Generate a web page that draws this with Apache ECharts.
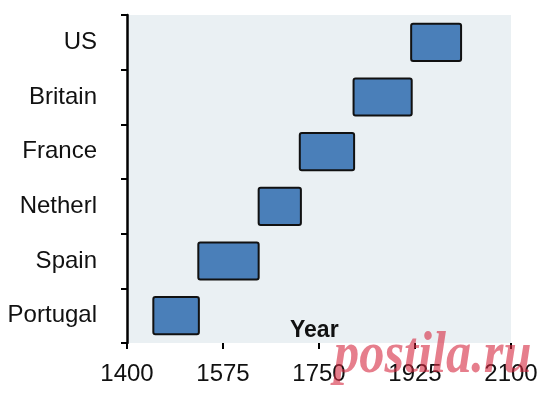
<!DOCTYPE html>
<html>
<head>
<meta charset="utf-8">
<script src="https://cdn.jsdelivr.net/npm/echarts@6/dist/echarts.min.js"></script>
<style>
  html, body { margin: 0; padding: 0; background: #fff; }
  #main { width: 549px; height: 393px; }
</style>
</head>
<body>
<div id="main"></div>
<script>
// countries, bottom to top
var countries = ['Portugal', 'Spain', 'Netherl', 'France', 'Britain', 'US'];
// period of leadership for each country (years)
var startYears = [1448, 1530, 1640, 1715, 1813, 1918];
var endYears   = [1531, 1640, 1717, 1814, 1919, 2009];
// x axis ticks
var yearMin = 1400;
var yearMax = 2100;
var yearStep = 175;

var periods = [];
for (var i = 0; i < countries.length; i++) {
  periods.push([i, startYears[i], endYears[i]]);
}

var myChart = echarts.init(document.getElementById('main'));

function renderBar(params, api) {
  var cat = api.value(0);
  var p1 = api.coord([api.value(1), cat]);
  var p2 = api.coord([api.value(2), cat]);
  var h = api.size([0, 1])[1] * 0.68;
  return {
    type: 'rect',
    shape: { x: p1[0], y: p1[1] - h / 2, width: p2[0] - p1[0], height: h, r: 2 },
    style: { fill: '#4a7fb9', stroke: '#111', lineWidth: 2 }
  };
}

var option = {
  animation: false,
  grid: {
    left: 127,
    right: 38,
    top: 15,
    bottom: 50,
    outerBoundsMode: 'none',
    containLabel: false,
    show: true,
    backgroundColor: '#eaf0f3',
    borderWidth: 0
  },
  xAxis: {
    type: 'value',
    min: yearMin,
    max: yearMax,
    interval: yearStep,
    splitLine: { show: false },
    axisLine: { lineStyle: { color: '#000', width: 3 } },
    axisTick: { show: true, length: 6, lineStyle: { color: '#000', width: 2 } },
    axisLabel: {
      fontFamily: 'Liberation Sans', fontSize: 24, color: '#111', margin: 19,
      formatter: function (v) { return String(v); }
    }
  },
  yAxis: {
    type: 'category',
    data: countries,
    axisLine: { lineStyle: { color: '#000', width: 2.5 } },
    axisTick: { show: true, length: 6, lineStyle: { color: '#000', width: 2 } },
    axisLabel: { fontFamily: 'Liberation Sans', fontSize: 24, color: '#111', margin: 30 },
    splitLine: { show: false }
  },
  series: [
    {
      type: 'custom',
      renderItem: renderBar,
      encode: { x: [1, 2], y: 0 },
      data: periods
    }
  ],
  graphic: [
    {
      type: 'text',
      left: 290,
      top: 319,
      z: 90,
      style: {
        text: 'Year',
        fontFamily: 'Liberation Sans',
        fontWeight: 'bold',
        fontSize: 23,
        fill: '#111'
      }
    },
    {
      type: 'text',
      left: 334,
      top: 326,
      scaleX: 0.84,
      z: 100,
      style: {
        text: 'postila.ru',
        fontFamily: 'Liberation Serif',
        fontStyle: 'italic',
        fontWeight: 'bold',
        fontSize: 60,
        fill: 'rgba(214, 40, 64, 0.6)'
      }
    }
  ]
};

myChart.setOption(option);
</script>
</body>
</html>
